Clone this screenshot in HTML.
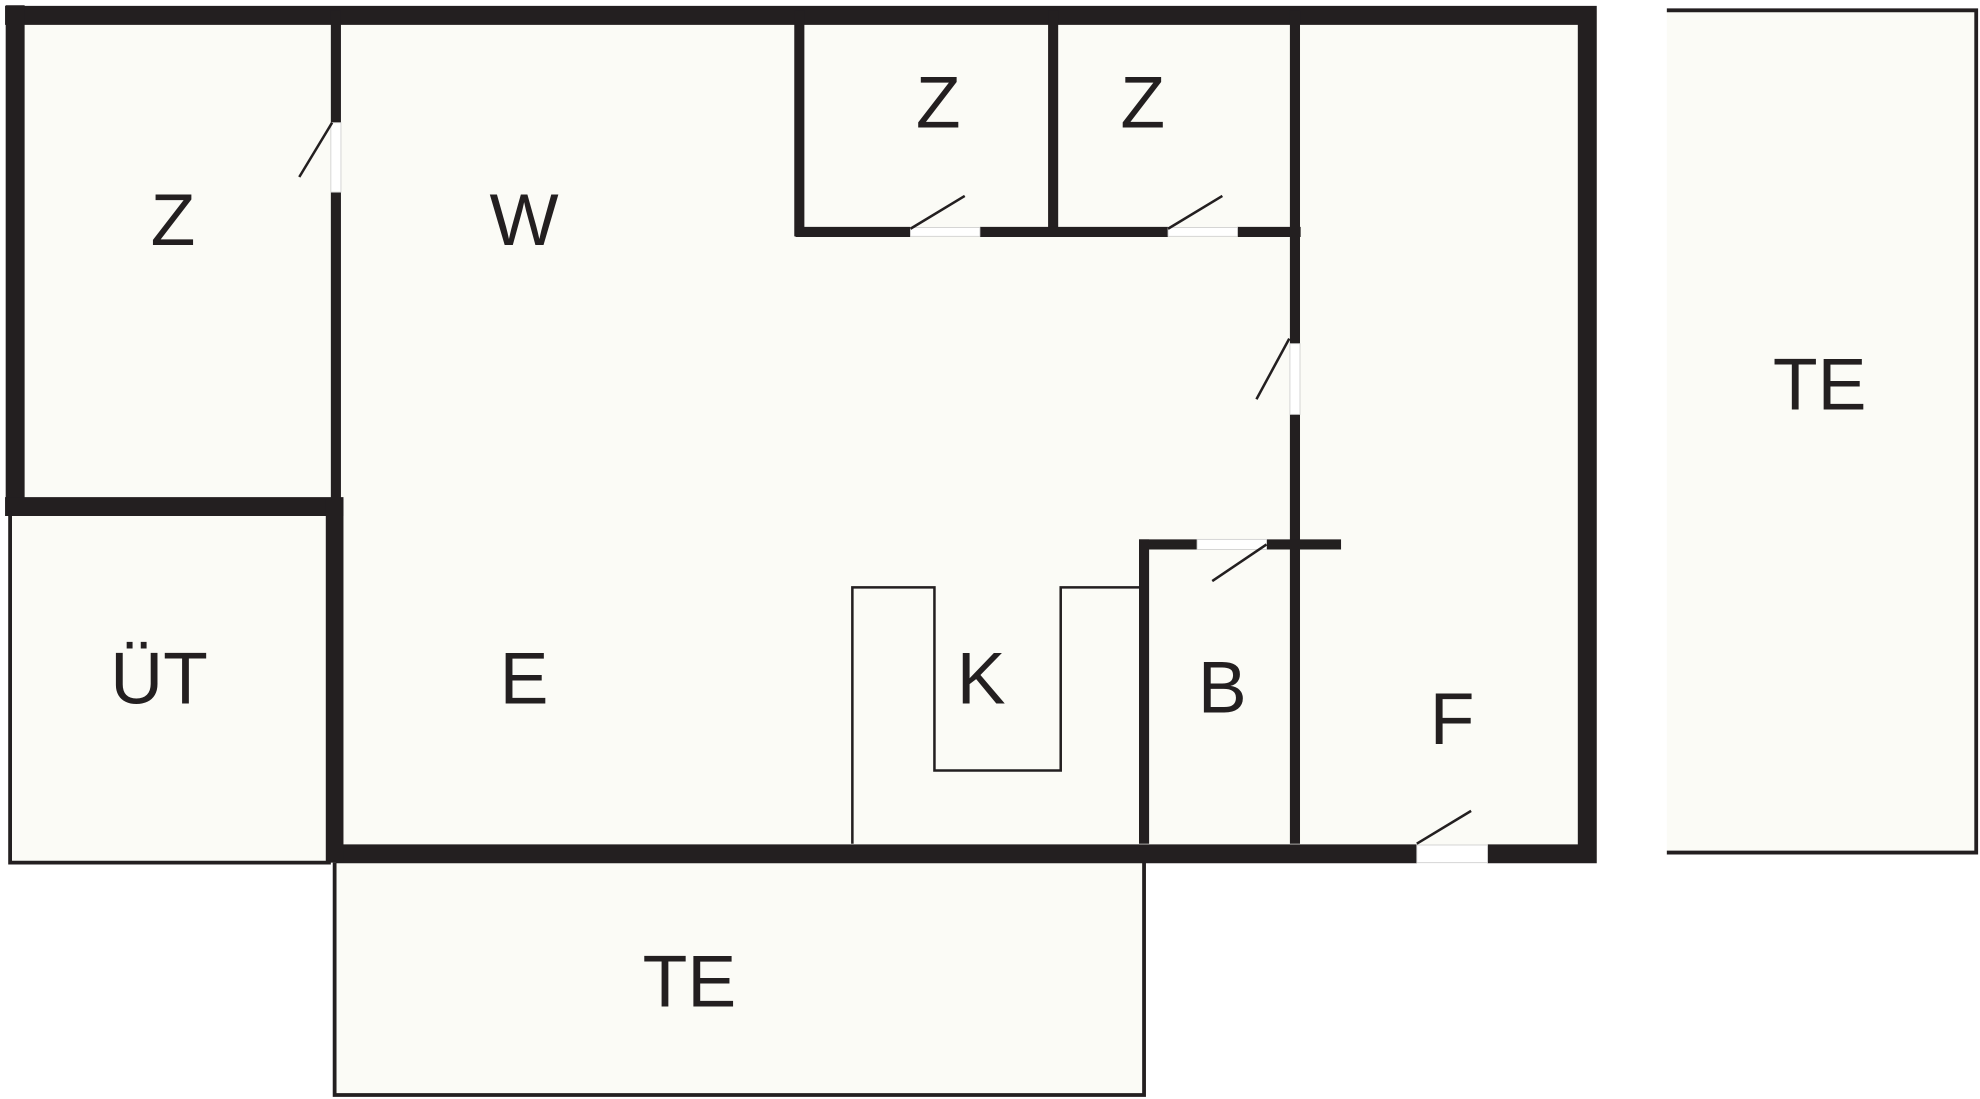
<!DOCTYPE html>
<html><head><meta charset="utf-8"><style>
html,body{margin:0;padding:0;background:#fff;}
svg{display:block;}
text{font-family:"Liberation Sans",sans-serif;font-size:58px;fill:#231f20;text-anchor:middle;}
</style></head><body>
<svg width="1980" height="1099" viewBox="0 0 1568 870" xmlns="http://www.w3.org/2000/svg">
<g fill="#fbfbf6" stroke="none">
<rect x="8" y="8" width="1257" height="675"/>
<rect x="265" y="683" width="641" height="184"/>
<rect x="1320" y="8" width="245" height="667"/>
</g>
<g stroke="#231f20" fill="none">
<path d="M4,12 H1257 V676 H1178 M1122,676 H266" stroke-width="15"/>
<path d="M12,4 V405" stroke-width="15"/>
<path d="M4,401 H272" stroke-width="15"/>
<path d="M265,395 V683" stroke-width="14"/>
<path d="M266,8 V97 M266,152 V395" stroke-width="8"/>
<path d="M8,405 V683 H262" stroke-width="3"/>
<path d="M633,8 V187" stroke-width="8"/>
<path d="M834,8 V184" stroke-width="8"/>
<path d="M630,183.5 H721 M776,183.5 H925 M980,183.5 H1030" stroke-width="8"/>
<path d="M1025.5,8 V272 M1025.5,328 V668" stroke-width="8"/>
<path d="M906,427 V668" stroke-width="8"/>
<path d="M902,431 H948 M1003,431 H1062" stroke-width="8"/>
<path d="M675,668 V465 H740 V610 H840 V465 H902" stroke-width="2"/>
<path d="M265,683 V867 H906 V683" stroke-width="3"/>
<path d="M1320,8 H1565 V675 H1320" stroke-width="3"/>
</g>
<!-- door gaps -->
<g fill="#fff" stroke="#d0d0d0" stroke-width="0.7">
<rect x="1122" y="669" width="56" height="14"/>
<rect x="721" y="180" width="55" height="7"/>
<rect x="925" y="180" width="55" height="7"/>
<rect x="262" y="97" width="8" height="55"/>
<rect x="948" y="427" width="55" height="8"/>
<rect x="1021.5" y="272" width="8" height="56"/>
</g>
<g stroke="#231f20" fill="none" stroke-width="2">
<path d="M263,97 L237,140"/>
<path d="M721,181 L764,155 M925,181 L968,155"/>
<path d="M1021,268 L995,316"/>
<path d="M1003,431 L960,460"/>
<path d="M1122,668 L1165,642"/>
</g>
<text x="137" y="194">Z</text>
<text x="415" y="194">W</text>
<text x="743" y="101">Z</text>
<text x="905" y="101">Z</text>
<text x="1441" y="324">TE</text>
<text x="126" y="557">ÜT</text>
<text x="415" y="557">E</text>
<text x="777" y="557">K</text>
<text x="968" y="564">B</text>
<text x="1150" y="589">F</text>
<text x="546" y="797">TE</text>
</svg>
</body></html>
